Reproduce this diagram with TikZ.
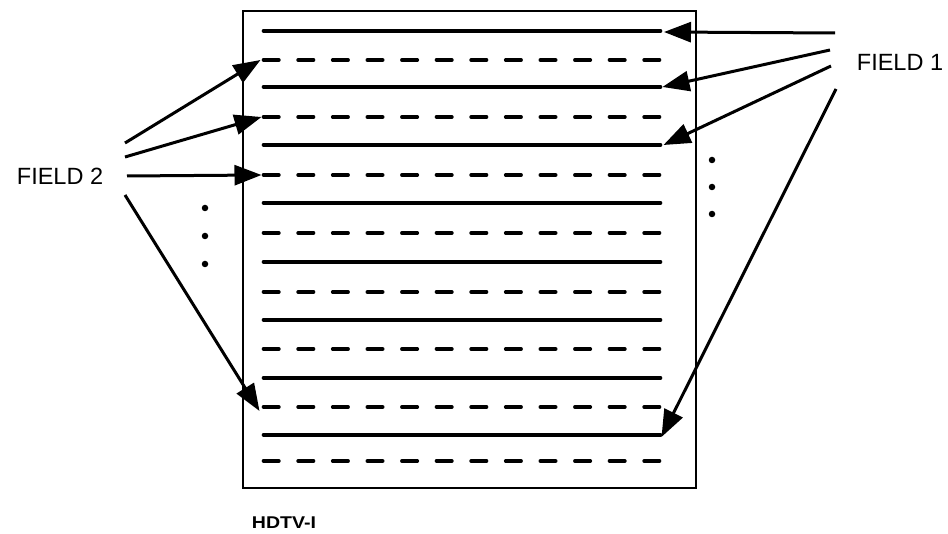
\documentclass[tikz,border=0pt]{standalone}
\usepackage{fontspec}
\setmainfont{Liberation Sans}
\usetikzlibrary{arrows.meta}
\begin{document}
\begin{tikzpicture}[x=1pt,y=-1pt,
  frame/.style={line width=2.2pt},
  solidline/.style={line width=3.6pt, line cap=round},
  dashline/.style={line width=3.6pt, line cap=round, dash pattern=on 15.4pt off 19.2pt},
  ptr/.style={line width=3pt, -{Triangle[length=27pt,width=20pt]}},
  lbl/.style={font=\fontsize{23.5}{23.5}\selectfont, inner sep=0pt},
  dotmark/.style={circle, fill, inner sep=0pt, minimum size=6.5pt}]
\useasboundingbox (0,0) rectangle (948,534);
\draw[frame] (243,11) rectangle (696,488);
% scan lines
\foreach \y [count=\i] in {31,87,145,203,262,320,378,435}
  {\draw[solidline] (263.5,\y) coordinate (s\i l) -- (660.5,\y) coordinate (s\i);}
\foreach \y [count=\i] in {60,117,175,233,292,349,407,461}
  {\draw[dashline] (263.5,\y) coordinate (d\i) -- (660.5,\y) coordinate (d\i r);}
% labels
\node[lbl] (f1) at (900,62) {FIELD 1};
\node[lbl] (f2) at (60,176) {FIELD 2};
\node[font=\bfseries\fontsize{17}{17}\selectfont, inner sep=0pt, xscale=1.15] (hd) at (284,523) {HDTV-I};
% arrow start points
\coordinate (a1) at (835,33);
\coordinate (a2) at (830,50);
\coordinate (a3) at (831,66);
\coordinate (a4) at (836,89);
\coordinate (b1) at (125,143);
\coordinate (b2) at (125,157);
\coordinate (b3) at (127,176);
\coordinate (b4) at (125,195);
% field 1 arrows
\draw[ptr] (a1) -- (664,32);
\draw[ptr] (a2) -- ([xshift=2pt]s2);
\draw[ptr] (a3) -- ([xshift=3pt]s3);
\draw[ptr] (a4) -- ([xshift=1pt,yshift=-2pt]s8);
% field 2 arrows
\draw[ptr] (b1) -- ([xshift=-3pt]d1);
\draw[ptr] (b2) -- ([xshift=-2pt]d2);
\draw[ptr] (b3) -- ([xshift=-2pt]d3);
\draw[ptr] (b4) -- ([xshift=-4pt,yshift=-4pt]d7);
% ellipsis dots
\foreach \y [count=\i] in {208,236,264} {\node[dotmark] (ld\i) at (205,\y) {};}
\foreach \y [count=\i] in {160,187,214} {\node[dotmark] (rd\i) at (712,\y) {};}
\end{tikzpicture}
\end{document}
